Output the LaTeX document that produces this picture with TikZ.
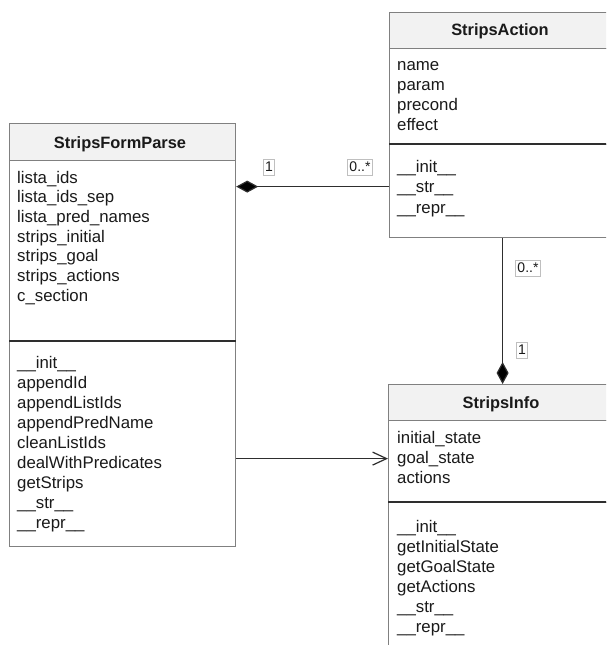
\documentclass[tikz,border=0pt]{standalone}
\usepackage{fontspec}
\setmainfont{Liberation Sans}
\usetikzlibrary{arrows.meta}
\definecolor{hdr}{HTML}{F2F2F2}
\definecolor{brd}{HTML}{808080}
\definecolor{ink}{HTML}{1A1A1A}
\definecolor{lnk}{HTML}{2E2E2E}
\tikzset{
  cbox/.style={draw=brd, line width=1.2pt, inner sep=0pt, anchor=north west},
  cdiv/.style={draw=lnk, line width=1.2pt},
  txt/.style={anchor=base west, inner sep=0pt, text=ink, font=\fontsize{16.8}{19.7}\selectfont},
  ttl/.style={anchor=base, inner sep=0pt, text=ink, font=\bfseries\fontsize{16.4}{19.7}\selectfont},
  comp/.style={draw=lnk, line width=1.2pt, -{Diamond[length=22pt,width=12pt,fill=black]}},
  assoc/.style={draw=lnk, line width=1.2pt, -{Straight Barb[length=14pt,width=13pt,line width=1.2pt]}},
  mult/.style={draw=brd!50, fill=white, line width=0.6pt, inner xsep=1.8pt, inner ysep=2.5pt, text height=10pt, text depth=1pt, text=ink, font=\fontsize{14}{16}\selectfont}
}
\begin{document}
\begin{tikzpicture}[x=1pt,y=-1pt]
\useasboundingbox (0,0) rectangle (606,645);
\clip (0,0) rectangle (606,645);
\fill[white] (0,0) rectangle (606,645);

% StripsFormParse
\node[cbox, fill=hdr, minimum width=226pt, minimum height=37pt] (sfph) at (9,123) {};
\node[cbox, fill=white, minimum width=226pt, minimum height=181pt] (sfpa) at (9,160) {};
\node[cbox, fill=white, minimum width=226pt, minimum height=205pt] (sfpm) at (9,341) {};
\draw[cdiv] (sfpm.north west) -- (sfpm.north east);
\node[ttl] (sfpt) at (120,148) {StripsFormParse};
\foreach \t [count=\i] in {lista\_ids, lista\_ids\_sep, lista\_pred\_names, strips\_initial, strips\_goal, strips\_actions, c\_section}
  \node[txt] (sfpa\i) at (17,{183+(\i-1)*19.7}) {\t};
\foreach \t [count=\i] in {\_\_init\_\_, appendId, appendListIds, appendPredName, cleanListIds, dealWithPredicates, getStrips, \_\_str\_\_, \_\_repr\_\_}
  \node[txt] (sfpm\i) at (17,{368+(\i-1)*20}) {\t};

% StripsAction
\node[cbox, fill=hdr, minimum width=241pt, minimum height=36pt] (sah) at (389,12) {};
\node[cbox, fill=white, minimum width=241pt, minimum height=96pt] (saa) at (389,48) {};
\node[cbox, fill=white, minimum width=241pt, minimum height=93pt] (sam) at (389,144) {};
\draw[cdiv] (sam.north west) -- (sam.north east);
\node[ttl] (sat) at (500,35) {StripsAction};
\foreach \t [count=\i] in {name, param, precond, effect}
  \node[txt] (saa\i) at (397,{70+(\i-1)*20}) {\t};
\foreach \t [count=\i] in {\_\_init\_\_, \_\_str\_\_, \_\_repr\_\_}
  \node[txt] (sam\i) at (397,{172+(\i-1)*20.5}) {\t};

% StripsInfo
\node[cbox, fill=hdr, minimum width=242pt, minimum height=36pt] (sih) at (388,384) {};
\node[cbox, fill=white, minimum width=242pt, minimum height=82pt] (sia) at (388,420) {};
\node[cbox, fill=white, minimum width=242pt, minimum height=160pt] (sim) at (388,502) {};
\draw[cdiv] (sim.north west) -- (sim.north east);
\node[ttl] (sit) at (501,408) {StripsInfo};
\foreach \t [count=\i] in {initial\_state, goal\_state, actions}
  \node[txt] (sia\i) at (397,{443+(\i-1)*20}) {\t};
\foreach \t [count=\i] in {\_\_init\_\_, getInitialState, getGoalState, getActions, \_\_str\_\_, \_\_repr\_\_}
  \node[txt] (sim\i) at (397,{532+(\i-1)*20}) {\t};

% connectors
\coordinate (c1) at ([yshift=4.5pt]sam.west);
\draw[comp] (c1) -- (c1 -| sfpa.east);
\coordinate (c2) at ([xshift=-7.5pt]sam.south);
\draw[comp] (c2) -- (c2 |- sih.north);
\coordinate (c3) at ([yshift=3pt]sia.west);
\draw[assoc] (c3 -| sfpm.east) -- (c3);

% multiplicities
\node[mult] (m1) at (269,167) {1};
\node[mult] (m2) at (360,167) {0..*};
\node[mult] (m3) at (528,268) {0..*};
\node[mult] (m4) at (522,350) {1};
\end{tikzpicture}
\end{document}
